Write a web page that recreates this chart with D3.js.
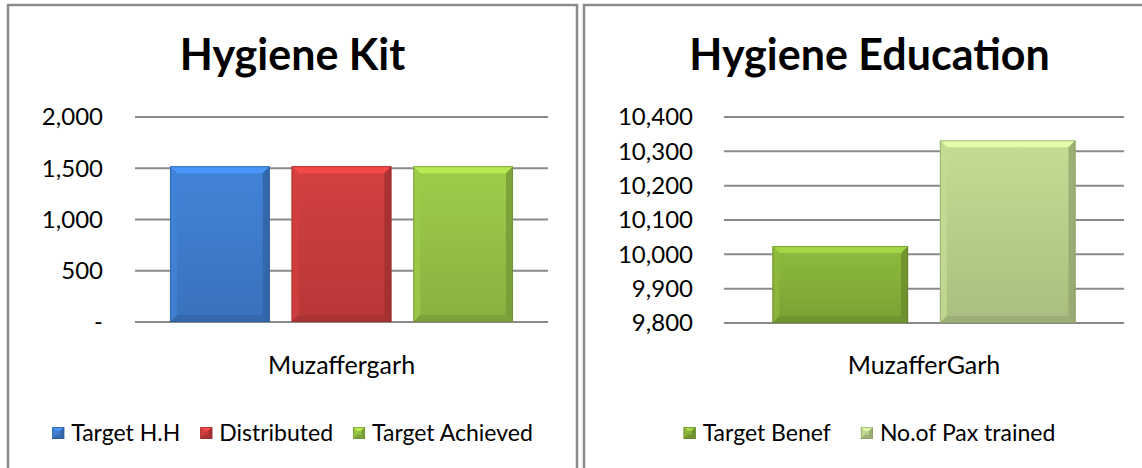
<!DOCTYPE html>
<html>
<head>
<meta charset="utf-8">
<script src="https://cdn.jsdelivr.net/npm/d3@7"></script>
<style>
  body { margin: 0; background: #fff; }
  svg { display: block; font-family: Lato, "Open Sans", sans-serif; }
</style>
</head>
<body>
<div id="chart"></div>
<script>
// Hygiene Kit
const kitTitle = "Hygiene Kit";
const kitCategories = ["Muzaffergarh"];
const kitSeries = ["Target H.H", "Distributed", "Target Achieved"];
const kitValues = [1520, 1520, 1520];
const kitTicks = [0, 500, 1000, 1500, 2000];
const kitColors = ["#3f7ed0", "#cc3d3d", "#98c447"];

// Hygiene Education
const eduTitle = "Hygiene Education";
const eduCategories = ["MuzafferGarh"];
const eduSeries = ["Target Benef", "No.of Pax trained"];
const eduValues = [10024, 10332];
const eduTicks = [9800, 9900, 10000, 10100, 10200, 10300, 10400];
const eduColors = ["#88b33a", "#bcd48e"];

const W = 1142, H = 468;
const svg = d3.select("#chart").append("svg").attr("width", W).attr("height", H);
const defs = svg.append("defs");

let gradId = 0;
function vGradient(color) {
  const id = "g" + (gradId++);
  const c = d3.color(color);
  const lg = defs.append("linearGradient").attr("id", id)
    .attr("x1", 0).attr("y1", 0).attr("x2", 0).attr("y2", 1);
  lg.append("stop").attr("offset", "0%").attr("stop-color", c.brighter(0.12));
  lg.append("stop").attr("offset", "100%").attr("stop-color", c.darker(0.3));
  return `url(#${id})`;
}

// bar with a bevelled edge, the way the office chart draws it
function bevelBar(g, x, y, w, h, color) {
  const b = Math.min(7, h / 3, w / 3);
  const c = d3.color(color);
  g.append("rect").attr("x", x).attr("y", y).attr("width", w).attr("height", h)
    .attr("fill", vGradient(color));
  const poly = (pts, fill, op) => g.append("polygon")
    .attr("points", pts.map(p => p.join(",")).join(" "))
    .attr("fill", fill).attr("opacity", op);
  poly([[x, y], [x + w, y], [x + w - b, y + b], [x + b, y + b]], c.brighter(0.55), 0.9);
  poly([[x, y], [x + b, y + b], [x + b, y + h - b], [x, y + h]], c.brighter(0.1), 0.8);
  poly([[x + w, y], [x + w - b, y + b], [x + w - b, y + h - b], [x + w, y + h]], c.darker(0.7), 0.8);
  poly([[x, y + h], [x + b, y + h - b], [x + w - b, y + h - b], [x + w, y + h]], c.darker(0.6), 0.8);
  g.append("rect").attr("x", x + 0.5).attr("y", y + 0.5).attr("width", w - 1).attr("height", h - 1)
    .attr("fill", "none").attr("stroke", c.darker(1)).attr("stroke-opacity", 0.6);
}

function legendSwatch(g, x, y, color) {
  bevelBar(g, x, y - 6, 12, 12, color);
}

function renderPanel(cfg) {
  const panel = svg.append("g");
  panel.append("rect")
    .attr("x", cfg.panelX).attr("y", 5).attr("width", cfg.panelW).attr("height", H + 20)
    .attr("fill", "none").attr("stroke", "#8c8c8c").attr("stroke-width", 2.5);

  const cx = cfg.panelX + cfg.panelW / 2;
  panel.append("text").attr("x", cx).attr("y", 70)
    .attr("text-anchor", "middle").attr("font-size", 43).attr("font-weight", "bold")
    .attr("fill", "#000").text(cfg.title);

  const y = d3.scaleLinear().domain(d3.extent(cfg.ticks)).range([cfg.gy1, cfg.gy0]);
  const x0 = d3.scaleBand().domain(cfg.categories).range([cfg.gx0, cfg.gx1])
    .paddingInner(0).paddingOuter(cfg.outerPad);
  const x1 = d3.scaleBand().domain(cfg.series).range([0, x0.bandwidth()])
    .paddingInner(cfg.innerPad).paddingOuter(0);

  // gridlines
  panel.append("g").selectAll("line").data(cfg.ticks).join("line")
    .attr("x1", cfg.gx0).attr("x2", cfg.gx1)
    .attr("y1", d => y(d)).attr("y2", d => y(d))
    .attr("stroke", "#8a8a8a").attr("stroke-width", 2);

  // y axis labels
  const fmt = d3.format(",");
  panel.append("g").selectAll("text").data(cfg.ticks).join("text")
    .attr("x", cfg.labelX).attr("y", d => y(d))
    .attr("dy", "0.35em").attr("text-anchor", "end")
    .attr("font-size", 24).attr("fill", "#000")
    .text(d => d === 0 ? "-" : fmt(d));

  // bars
  const bars = panel.append("g");
  cfg.categories.forEach(cat => {
    cfg.series.forEach((s, i) => {
      const v = cfg.values[i];
      const bx = x0(cat) + x1(s);
      bevelBar(bars, bx, y(v), x1.bandwidth(), y(cfg.ticks[0]) - y(v), cfg.colors[i]);
    });
    panel.append("text").attr("x", x0(cat) + x0.bandwidth() / 2).attr("y", 365)
      .attr("dy", "0.35em").attr("text-anchor", "middle")
      .attr("font-size", 25).attr("fill", "#000").text(cat);
  });

  // legend
  const legend = panel.append("g");
  let lx = 0;
  cfg.series.forEach((s, i) => {
    const it = legend.append("g").attr("transform", `translate(${lx},0)`);
    legendSwatch(it, 0, 0, cfg.colors[i]);
    const t = it.append("text").attr("x", 19).attr("y", 0).attr("dy", "0.35em")
      .attr("font-size", 23).attr("fill", "#000").text(s);
    lx += 19 + t.node().getComputedTextLength() + cfg.legendGap;
  });
  const total = lx - cfg.legendGap;
  legend.attr("transform", `translate(${cx - total / 2},433)`);
}

renderPanel({
  title: kitTitle, categories: kitCategories, series: kitSeries, values: kitValues,
  ticks: kitTicks, colors: kitColors,
  panelX: 8, panelW: 569, gx0: 135, gx1: 548, gy0: 117, gy1: 322, labelX: 103,
  outerPad: 0.102, innerPad: 0.18, legendGap: 20
});

renderPanel({
  title: eduTitle, categories: eduCategories, series: eduSeries, values: eduValues,
  ticks: eduTicks, colors: eduColors,
  panelX: 584, panelW: 571, gx0: 724, gx1: 1124, gy0: 117, gy1: 323, labelX: 693,
  outerPad: 0.16, innerPad: 0.19, legendGap: 30
});
</script>
</body>
</html>
